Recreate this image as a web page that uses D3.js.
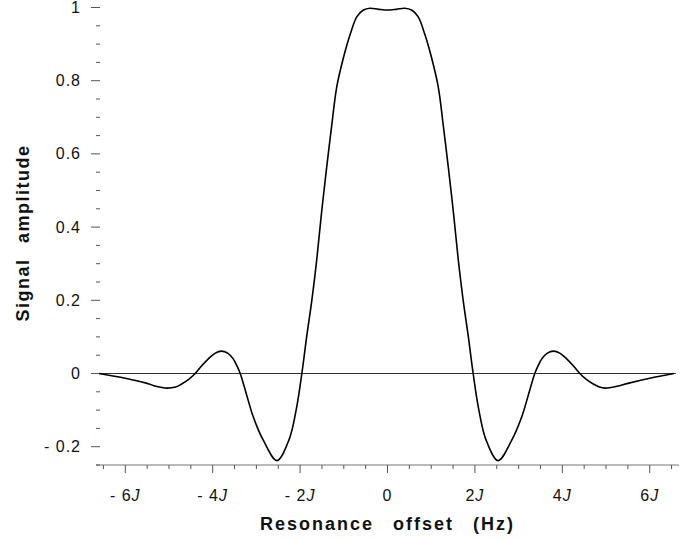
<!DOCTYPE html>
<meta charset="utf-8">
<script src="https://d3js.org/d3.v7.min.js"></script>
<style>
  body { margin: 0; background: #fff; }
  text { font-family: "Liberation Sans", Arial, sans-serif; fill: #111; }
</style>
<div id="chart"></div>
<script>
// offset in units of J
var offsetJ = [-6.6, -6.0, -5.5, -5.3, -5.05, -4.85, -4.7, -4.55, -4.4, -4.25, -4.1, -3.95, -3.8, -3.65,
  -3.53, -3.45, -3.37, -3.22, -3.07, -2.84, -2.53,
  -2.25, -2.08, -1.96, -1.85, -1.73, -1.62, -1.51, -1.39, -1.28, -1.16, -1.01, -0.85, -0.7,
  -0.55, -0.4, -0.2, 0,
  0.2, 0.4, 0.55, 0.7, 0.85, 1.01, 1.16, 1.28, 1.39, 1.51, 1.62, 1.73, 1.85, 1.96,
  2.08, 2.25, 2.53, 2.84, 3.07, 3.22, 3.37, 3.45, 3.53, 3.65, 3.8, 3.95,
  4.1, 4.25, 4.4, 4.55, 4.7, 4.85, 4.98, 5.25, 5.5, 6.0, 6.55];
var amplitude = [0.0, -0.013, -0.027, -0.035, -0.040, -0.037, -0.028, -0.016, 0.0, 0.021, 0.040, 0.055, 0.061, 0.055,
  0.040, 0.022, 0.0, -0.060, -0.119, -0.183, -0.238,
  -0.180, -0.093, 0.0, 0.100, 0.201, 0.310, 0.438, 0.565, 0.674, 0.784, 0.862, 0.928, 0.975,
  0.993, 0.998, 0.995, 0.993,
  0.995, 0.998, 0.993, 0.975, 0.928, 0.862, 0.784, 0.674, 0.565, 0.438, 0.310, 0.201, 0.100, 0.0,
  -0.093, -0.180, -0.238, -0.183, -0.119, -0.060, 0.0, 0.022, 0.040, 0.055, 0.061, 0.055,
  0.040, 0.021, 0.0, -0.016, -0.028, -0.037, -0.040, -0.035, -0.027, -0.013, 0.0];

var xMajor = [-6, -4, -2, 0, 2, 4, 6];
var xMinor = d3.range(-13, 14).map(d => d / 2);
var yMajor = [-0.2, 0, 0.2, 0.4, 0.6, 0.8, 1];
var yMinor = d3.range(-5, 21).map(d => d * 0.05);

var width = 680, height = 539;

var svg = d3.select("#chart").append("svg")
  .attr("width", width)
  .attr("height", height);

var x = d3.scaleLinear().domain([-6.67, 6.67]).range([96, 679]);
var y = d3.scaleLinear().domain([-0.25, 1]).range([465, 7.5]);

// x axis line + ticks
var xAxis = svg.append("g").attr("transform", "translate(0," + y(-0.25) + ")");
xAxis.append("line")
  .attr("x1", x(-6.67)).attr("x2", x(6.67))
  .attr("stroke", "#777").attr("stroke-width", 1.2);
xAxis.selectAll(".xminor").data(xMinor).enter().append("line")
  .attr("x1", d => x(d)).attr("x2", d => x(d))
  .attr("y1", 0).attr("y2", d => xMajor.includes(d) ? 8 : 4)
  .attr("stroke", "#555");

// x tick labels with italic J
var xl = svg.selectAll(".xlab").data(xMajor).enter().append("text")
  .attr("x", d => x(d)).attr("y", 501)
  .attr("text-anchor", "middle")
  .style("font-size", "16px").style("letter-spacing", "1px");
xl.each(function(d) {
  var t = d3.select(this);
  if (d === 0) { t.text("0"); return; }
  t.append("tspan").text((d < 0 ? "- " : "") + Math.abs(d));
  t.append("tspan").style("font-style", "italic").text("J");
});

// y ticks (no axis line)
svg.selectAll(".yminor").data(yMinor).enter().append("line")
  .attr("x1", d => yMajor.some(m => Math.abs(m - d) < 1e-6) ? 91 : 96)
  .attr("x2", 100)
  .attr("y1", d => y(d)).attr("y2", d => y(d))
  .attr("stroke", "#555");

svg.selectAll(".ylab").data(yMajor).enter().append("text")
  .attr("x", 81).attr("y", d => y(d) + 5.5)
  .attr("text-anchor", "end")
  .style("font-size", "16px").style("letter-spacing", "1px")
  .text(d => d === 1 ? "1" : d === 0 ? "0" : d < 0 ? "- 0.2" : d.toFixed(1));

// zero line
svg.append("line")
  .attr("x1", x(-6.6)).attr("x2", x(6.6))
  .attr("y1", y(0)).attr("y2", y(0))
  .attr("stroke", "#333").attr("stroke-width", 1);

// curve
var line = d3.line()
  .x((d, i) => x(offsetJ[i]))
  .y(d => y(d))
  .curve(d3.curveCatmullRom.alpha(0.5));

svg.append("path")
  .datum(amplitude)
  .attr("d", line)
  .attr("fill", "none")
  .attr("stroke", "#000")
  .attr("stroke-width", 1.6);

// axis titles
svg.append("text")
  .attr("x", x(0)).attr("y", 530)
  .attr("text-anchor", "middle")
  .style("font-size", "18px").style("font-weight", "bold")
  .style("word-spacing", "12px").style("letter-spacing", "2px")
  .text("Resonance offset (Hz)");

svg.append("text")
  .attr("transform", "translate(29," + 233 + ") rotate(-90)")
  .attr("text-anchor", "middle")
  .style("font-size", "18px").style("font-weight", "bold")
  .style("word-spacing", "9px").style("letter-spacing", "1.5px")
  .text("Signal amplitude");
</script>
